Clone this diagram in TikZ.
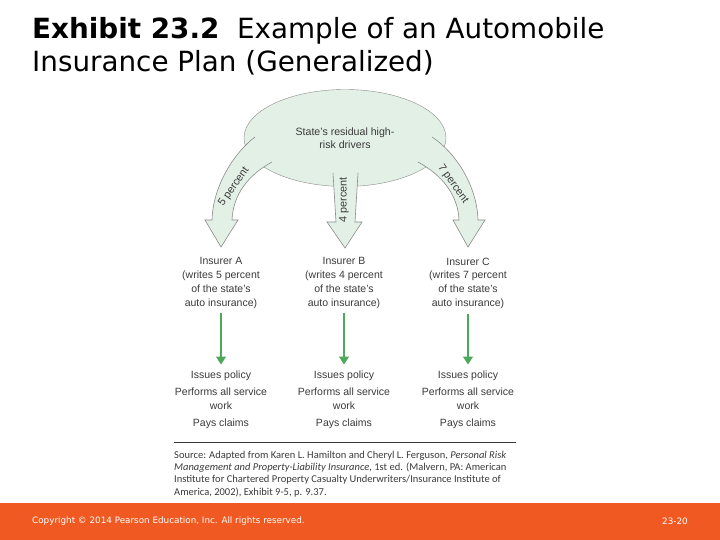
\documentclass[tikz,border=0pt]{standalone}
\usepackage{fontspec}
\setmainfont{Liberation Sans}
\newfontfamily\titlefont{DejaVu Sans}
\newfontfamily\sourcefont{Carlito}
\usetikzlibrary{shapes.geometric,arrows.meta}
\definecolor{poolfill}{HTML}{E3F0E6}
\definecolor{poolline}{HTML}{8A8A8A}
\definecolor{flowgreen}{HTML}{4EA85A}
\definecolor{pearson}{HTML}{F05A22}
\definecolor{bodygray}{HTML}{3A3A3A}

\begin{document}
\begin{tikzpicture}[x=1pt,y=-1pt,
		pool/.style={ellipse,draw=poolline,fill=poolfill,minimum width=202pt,minimum height=97pt,inner sep=0pt,align=center,font=\fontsize{10.6}{13.2}\selectfont,text=bodygray},
		share/.style={draw=poolline,fill=poolfill,line width=0.6pt},
		insurer/.style={anchor=north,align=center,inner sep=0pt,font=\fontsize{10.5}{13.7}\selectfont,text=bodygray},
		flow/.style={draw=flowgreen,line width=1.6pt,-{Triangle[width=10pt,length=8pt]},shorten <=5pt,shorten >=6pt},
		pct/.style={font=\fontsize{10.8}{12}\selectfont,text=bodygray,inner sep=0pt}]
		\useasboundingbox (0,0) rectangle (720,540);
		\fill[pearson] (0,503) rectangle (720,540);
		\node[anchor=base west,inner sep=0pt,font=\titlefont\fontsize{27.8}{32}\selectfont] (t1) at (32,39) {\textbf{Exhibit 23.2}\ \ Example of an Automobile};
		\node[anchor=base west,inner sep=0pt,font=\titlefont\fontsize{27.8}{32}\selectfont] (t2) at (32,72) {Insurance Plan (Generalized)};
		\node[pool] (z) at (345,138) {State's residual high-\\risk drivers};
		\draw[share] (255,137) .. controls (235,152) and (213,185) .. (212,220) -- (205,220) -- (221,247) -- (238,220) -- (232,220) .. controls (233,195) and (248,175) .. (272,162);
		\draw[share] (333,173) -- (336,222) -- (327,222) -- (345,248) -- (362,222) -- (355,222) -- (358,173);
		\draw[share] (432,137) .. controls (455,152) and (477,185) .. (478,220) -- (485,220) -- (468,247) -- (453,220) -- (459,220) .. controls (458,195) and (442,175) .. (418,162);
		\node[pct,rotate=55] (p5) at (234,187) {5 percent};
		\node[pct,rotate=90] (p4) at (344,200) {4 percent};
		\node[pct,rotate=-55] (p7) at (453,184) {7 percent};
		\node[insurer] (a) at (221,257.5) {Insurer A\\(writes 5 percent\\of the state's\\auto insurance)};
		\node[insurer] (b) at (344,257.5) {Insurer B\\(writes 4 percent\\of the state's\\auto insurance)};
		\node[insurer] (c) at (468,257.5) {Insurer C\\(writes 7 percent\\of the state's\\auto insurance)};
		\node[insurer] (pa) at (221,370.5) {Issues policy\\[3.5pt]Performs all service\\work\\[3.5pt]Pays claims};
		\node[insurer] (pb) at (344,370.5) {Issues policy\\[3.5pt]Performs all service\\work\\[3.5pt]Pays claims};
		\node[insurer] (pc) at (468,370.5) {Issues policy\\[3.5pt]Performs all service\\work\\[3.5pt]Pays claims};
		\draw[flow] (a) -- (pa);
		\draw[flow] (b) -- (pb);
		\draw[flow] (c) -- (pc);
		\coordinate (rl) at (174,442);
		\coordinate (rr) at (516,442);
		\draw[bodygray,line width=1pt] (rl) -- (rr);
		\node[anchor=north west,inner sep=0pt,align=left,font=\sourcefont\fontsize{10.5}{12.2}\selectfont,text=bodygray] (src) at (174,451) {Source: Adapted from Karen L. Hamilton and Cheryl L. Ferguson, \textit{Personal Risk}\\\textit{Management and Property-Liability Insurance}, 1st ed. (Malvern, PA: American\\Institute for Chartered Property Casualty Underwriters/Insurance Institute of\\America, 2002), Exhibit 9-5, p. 9.37.};
		\node[anchor=west,inner sep=0pt,text=white,font=\titlefont\fontsize{8.8}{10}\selectfont] (copy) at (32,521) {Copyright © 2014 Pearson Education, Inc. All rights reserved.};
		\node[anchor=east,inner sep=0pt,text=white,font=\titlefont\fontsize{8.8}{10}\selectfont] (page) at (688,521) {23-20};
\end{tikzpicture}
\end{document}
